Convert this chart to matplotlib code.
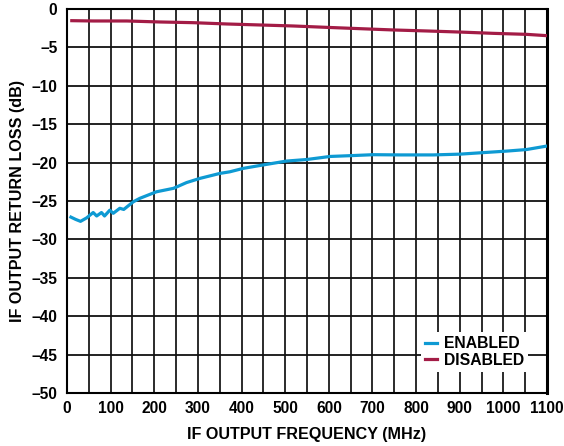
import matplotlib
matplotlib.use("Agg")
import matplotlib.pyplot as plt
from matplotlib.ticker import MultipleLocator, FuncFormatter

plt.rcParams['font.family'] = ['Liberation Sans', 'DejaVu Sans']
plt.rcParams['font.weight'] = 'bold'

# Data
enabled_freq = [9, 20, 31, 45, 60, 68, 79, 86, 98, 106, 121, 130, 152, 167, 205, 244, 274, 305,
                351, 373, 404, 450, 503, 549, 603, 648, 702, 763, 839, 900, 954, 1008, 1053, 1099]
enabled_db = [-27.1, -27.4, -27.65, -27.2, -26.5, -26.95, -26.5, -26.95, -26.2, -26.6, -25.95,
              -26.1, -25.1, -24.65, -23.8, -23.35, -22.6, -22.05, -21.4, -21.2, -20.75, -20.3,
              -19.8, -19.6, -19.2, -19.1, -18.97, -19.0, -19.0, -18.9, -18.7, -18.5, -18.3, -17.85]

disabled_freq = [11, 60, 137, 213, 289, 366, 442, 518, 595, 671, 748, 824, 900, 977, 1053, 1099]
disabled_db = [-1.52, -1.56, -1.56, -1.69, -1.78, -1.95, -2.08, -2.21, -2.39, -2.56, -2.73,
               -2.86, -3.0, -3.17, -3.3, -3.47]

series_labels = ["ENABLED", "DISABLED"]
x_label = "IF OUTPUT FREQUENCY (MHz)"
y_label = "IF OUTPUT RETURN LOSS (dB)"

FONT = dict(family='Liberation Sans', weight='bold')

fig = plt.figure(figsize=(5.64, 4.46), dpi=100)
ax = fig.add_axes([67/564, 1 - 393/446, (547-67)/564, (393-9)/446])

ax.plot(enabled_freq, enabled_db, color='#0E9AD3', lw=2.3, label=series_labels[0], zorder=3)
ax.plot(disabled_freq, disabled_db, color='#A31C46', lw=2.3, label=series_labels[1], zorder=3)

ax.set_xlim(0, 1100)
ax.set_ylim(-50, 0)
ax.xaxis.set_major_locator(MultipleLocator(100))
ax.xaxis.set_minor_locator(MultipleLocator(50))
ax.yaxis.set_major_locator(MultipleLocator(5))
ax.yaxis.set_major_formatter(FuncFormatter(lambda v, p: ("\u2013%d" % abs(v)) if v < 0 else "%d" % v))
ax.grid(which='both', axis='x', color='#1a1a1a', lw=1.3)
ax.grid(which='major', axis='y', color='#111111', lw=1.3)
ax.set_axisbelow(True)
ax.tick_params(axis='x', which='both', length=0, labelsize=11.2, pad=6)
ax.tick_params(axis='y', which='both', length=0, labelsize=11.2, pad=7)
fig.canvas.draw()
for lab in ax.get_xticklabels() + ax.get_yticklabels():
    lab.set_family('Liberation Sans')
    lab.set_fontweight('bold')
for s in ax.spines.values():
    s.set_linewidth(1.5)
    s.set_color('black')
ax.spines['right'].set_linewidth(2.2)

ax.set_xlabel(x_label, fontsize=11.6, **FONT)
ax.set_ylabel(y_label, fontsize=11.6, **FONT)
ax.xaxis.label.set_va('top')
ax.xaxis.set_label_coords(0.5, -(427 - 393) / 384)
ax.yaxis.set_label_coords(-(67 - 25) / 480, 0.5)

leg = ax.legend(loc='lower right', bbox_to_anchor=(0.977, 0.035), frameon=True, fancybox=False,
                edgecolor='white', framealpha=1, handlelength=0.75, handletextpad=0.45,
                borderpad=0.25, labelspacing=0.1,
                prop={'family': 'Liberation Sans', 'weight': 'bold', 'size': 11.3})
leg.get_frame().set_linewidth(0)

fig.savefig("out.png", dpi=100)
